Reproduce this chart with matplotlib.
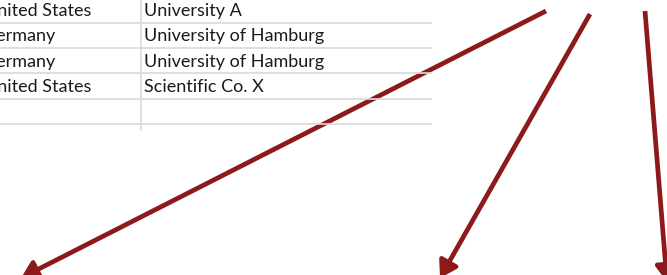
import matplotlib.pyplot as plt
from matplotlib.patches import FancyArrowPatch

# table contents (first column is cut off at the left edge)
countries = ["United States", "Germany", "Germany", "United States", ""]
institutions = ["University A", "University of Hamburg", "University of Hamburg", "Scientific Co. X", ""]

# arrows: start and end points in pixel coordinates
arrow_starts = [(546, 11), (590, 14), (645, 11)]
arrow_ends = [(21, 278), (440, 278), (667, 282)]

W, H = 667, 275
fig = plt.figure(figsize=(W / 100, H / 100), dpi=100)
ax = fig.add_axes([0, 0, 1, 1])
ax.set_xlim(0, W)
ax.set_ylim(H, 0)
ax.axis("off")

row_h = 25.4
col2_x = 140.5
grid_color = "#d9d9d9"
text_color = "#1a1a1a"

for i, (c, inst) in enumerate(zip(countries, institutions)):
    y_line = 22.5 + i * row_h
    ax.plot([0, 431], [y_line, y_line], color=grid_color, lw=1.2)
    ax.text(-16.5, y_line - 11.5, c, fontsize=13, color=text_color,
            va="center", ha="left", family="Lato")
    ax.text(col2_x + 3.5, y_line - 11.5, inst, fontsize=13, color=text_color,
            va="center", ha="left", family="Lato")

ax.plot([col2_x, col2_x], [0, 130], color=grid_color, lw=1.2)

for (x0, y0), (x1, y1) in zip(arrow_starts, arrow_ends):
    arr = FancyArrowPatch((x0, y0), (x1, y1),
                          arrowstyle="-|>,head_length=0.8,head_width=0.5",
                          mutation_scale=12, color="#8c1a1a", lw=3.4,
                          shrinkA=0, shrinkB=0, capstyle="butt")
    ax.add_patch(arr)

fig.savefig("out.png", dpi=100)
